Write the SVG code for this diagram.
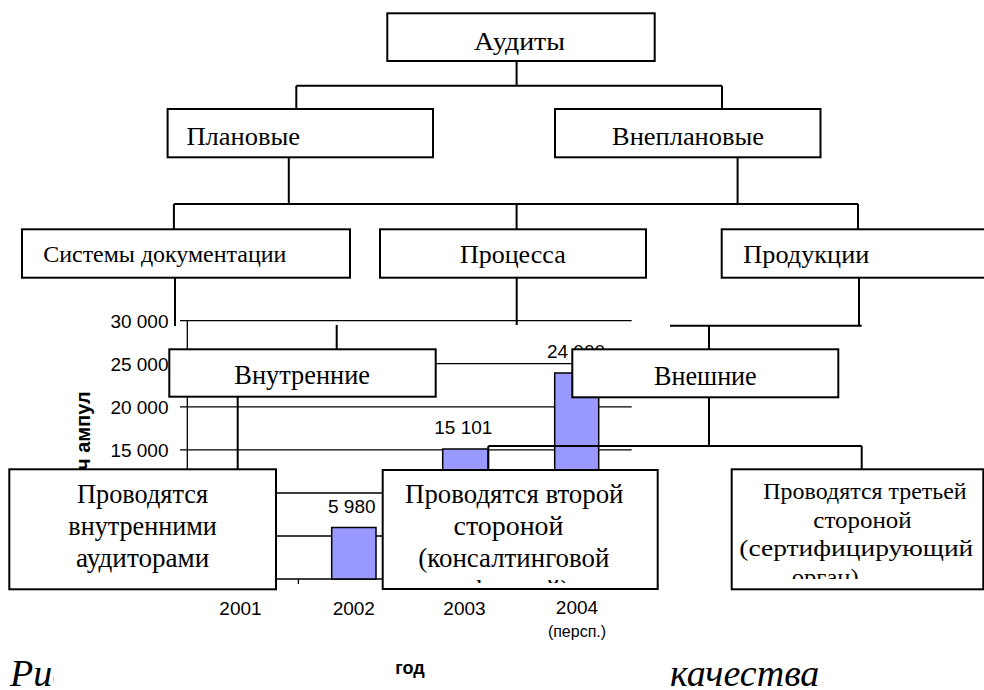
<svg xmlns="http://www.w3.org/2000/svg" width="984" height="690" viewBox="0 0 984 690">
<style>
.grid{stroke:#000;stroke-width:1.3;fill:none}
.bar{fill:#9999FF;stroke:#000;stroke-width:1.5}
.ct{font-family:"Liberation Sans",Arial,sans-serif;font-size:19px;fill:#000}
.box{fill:#fff;stroke:#000;stroke-width:2}
.con{stroke:#000;stroke-width:2;fill:none}
.t{font-family:"Liberation Serif","Times New Roman",serif;font-size:25px;fill:#000}
.m{text-anchor:middle}
.cap{font-family:"Liberation Serif","Times New Roman",serif;font-size:38px;font-style:italic;fill:#000}
</style>
<defs>
<clipPath id="capclip"><rect x="0" y="640" width="53.5" height="50"/></clipPath>
<clipPath id="b2clip"><rect x="383" y="470" width="275" height="113"/></clipPath>
<clipPath id="b3clip"><rect x="732" y="470" width="252" height="109"/></clipPath>
</defs>
<rect width="984" height="690" fill="#fff"/>

<!-- caption -->
<text class="cap" x="10" y="686" clip-path="url(#capclip)">Рис</text>
<text class="cap" x="670" y="686">качества</text>

<!-- chart -->
<g id="chart">
<path class="grid" d="M180 320.7H631.7M180 363.7H631.7M180 406.8H631.7M180 449.9H631.7M180 493H631.7M180 536H631.7M187.3 320.7V579M180 579H631.7M298.4 579V584"/>
<rect class="bar" x="331.7" y="527.5" width="44.3" height="51.5"/>
<rect class="bar" x="442.7" y="449" width="45.6" height="130"/>
<rect class="bar" x="554.7" y="373" width="44" height="206"/>
<text class="ct" x="168.5" y="328" text-anchor="end">30 000</text>
<text class="ct" x="168.5" y="371" text-anchor="end">25 000</text>
<text class="ct" x="168.5" y="414" text-anchor="end">20 000</text>
<text class="ct" x="168.5" y="457" text-anchor="end">15 000</text>
<text class="ct m" x="351.8" y="513.3">5 980</text>
<text class="ct m" x="463.3" y="434.3">15 101</text>
<text class="ct m" x="576" y="358.3">24 000</text>
<text class="ct m" x="240.5" y="614.5">2001</text>
<text class="ct m" x="353.8" y="614.5">2002</text>
<text class="ct m" x="464.5" y="614.5">2003</text>
<text class="ct m" x="577" y="613.5">2004</text>
<text class="ct m" x="577" y="637" style="font-size:16px">(персп.)</text>
<text class="ct m" x="410" y="674" style="font-size:18px;font-weight:bold">год</text>
<text class="ct" transform="translate(89.5 470) rotate(-90)" x="0" y="0" style="font-weight:bold;font-size:20px">ч ампул</text>
</g>

<!-- connectors -->
<g id="connectors">
<path class="con" d="M516.6 61V85.7M296.3 85.7H722M296.3 85.7V109M722 85.7V109"/>
<path class="con" d="M288.8 157.3V204M737.6 157.3V204M173.9 204H858M173.9 204V229.3M516.6 204V229.3M858 204V229.3"/>
<path class="con" d="M175 277.7V326M516.7 277.7V325M859 277.7V325.7M670 325.7H861.7M336.7 325V349.3M709 325.7V349.3"/>
<path class="con" d="M237.7 396.7V469.3M709 397.3V446M488.3 446H861.7M488.3 446V470M861.7 446V469.3"/>
</g>

<!-- nodes -->
<g id="n-audity"><rect class="box" x="387.3" y="13.3" width="267.4" height="47.7"/><text class="t m" x="519.5" y="50" textLength="91" lengthAdjust="spacingAndGlyphs">Аудиты</text></g>
<g id="n-planovye"><rect class="box" x="167.6" y="109" width="265.4" height="48.3"/><text class="t" x="186.4" y="145" textLength="113.6" lengthAdjust="spacingAndGlyphs">Плановые</text></g>
<g id="n-vneplanovye"><rect class="box" x="555" y="109" width="265.5" height="48.3"/><text class="t m" x="688" y="145" textLength="152" lengthAdjust="spacingAndGlyphs">Внеплановые</text></g>
<g id="n-sistemy"><rect class="box" x="22" y="229.3" width="328" height="48.4"/><text class="t" x="43.3" y="262.3" style="font-size:24px" textLength="243" lengthAdjust="spacingAndGlyphs">Системы документации</text></g>
<g id="n-processa"><rect class="box" x="380" y="229.3" width="266" height="48.4"/><text class="t" x="460" y="263" style="font-size:26px" textLength="105.7" lengthAdjust="spacingAndGlyphs">Процесса</text></g>
<g id="n-produkcii"><rect class="box" x="721.7" y="229.3" width="264" height="48.4"/><text class="t" x="743.3" y="263" style="font-size:26px" textLength="126" lengthAdjust="spacingAndGlyphs">Продукции</text></g>
<g id="n-vnutrennie"><rect class="box" x="169.3" y="349.3" width="266.4" height="47.4"/><text class="t" x="234.3" y="384.3" style="font-size:26.7px" textLength="135.7" lengthAdjust="spacingAndGlyphs">Внутренние</text></g>
<g id="n-vneshnie"><rect class="box" x="572.3" y="349.3" width="266" height="48"/><text class="t" x="654" y="385" style="font-size:26.7px" textLength="102.7" lengthAdjust="spacingAndGlyphs">Внешние</text></g>
<g id="n-internal-auditors" style="font-size:26.5px"><rect class="box" x="9.3" y="469.3" width="266.7" height="120"/>
<text class="t" x="77" y="502.5" style="font-size:26.5px" textLength="131" lengthAdjust="spacingAndGlyphs">Проводятся</text>
<text class="t" x="68.3" y="534.5" style="font-size:26.5px" textLength="148.4" lengthAdjust="spacingAndGlyphs">внутренними</text>
<text class="t" x="76" y="566.5" style="font-size:26.5px" textLength="133.3" lengthAdjust="spacingAndGlyphs">аудиторами</text></g>
<g id="n-second-party"><rect class="box" x="382.7" y="470" width="275" height="119"/>
<g clip-path="url(#b2clip)">
<text class="t" x="405" y="502.5" style="font-size:27px" textLength="218.5" lengthAdjust="spacingAndGlyphs">Проводятся второй</text>
<text class="t" x="453.5" y="534.5" style="font-size:27px" textLength="110" lengthAdjust="spacingAndGlyphs">стороной</text>
<text class="t" x="418.3" y="566.5" style="font-size:27px" textLength="191" lengthAdjust="spacingAndGlyphs">(консалтинговой</text>
<text class="t m" x="520" y="598.5" style="font-size:27px">фирмой)</text></g></g>
<g id="n-third-party"><rect class="box" x="731.7" y="469.3" width="251.6" height="120"/>
<g clip-path="url(#b3clip)">
<text class="t" x="763.3" y="499" style="font-size:24px" textLength="203.4" lengthAdjust="spacingAndGlyphs">Проводятся третьей</text>
<text class="t" x="813.3" y="527.5" style="font-size:24px" textLength="98.4" lengthAdjust="spacingAndGlyphs">стороной</text>
<text class="t" x="739.3" y="556" style="font-size:24px" textLength="234" lengthAdjust="spacingAndGlyphs">(сертифицирующий</text>
<text class="t" x="791.7" y="584.5" style="font-size:24px" textLength="67" lengthAdjust="spacingAndGlyphs">орган)</text></g></g>
</svg>
